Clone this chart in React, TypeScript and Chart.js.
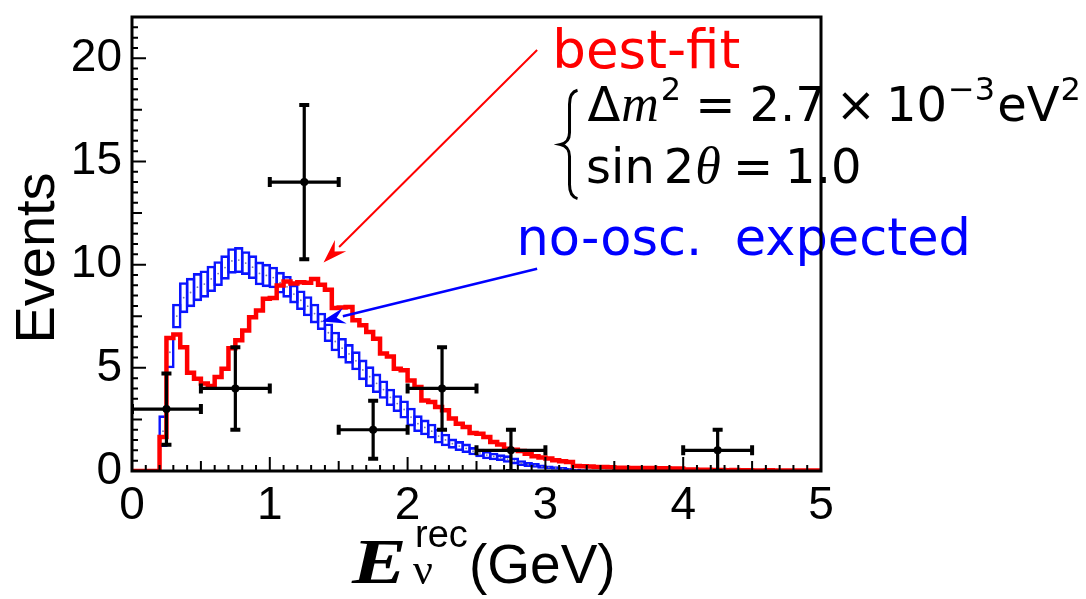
import React, { useEffect, useRef } from 'react';
import { Chart, registerables } from 'chart.js';

Chart.register(...registerables);

// ---------------- data ----------------
const binStart = 0.2;   // GeV, low edge of first histogram bin
const binWidth = 0.05;  // GeV

// best-fit expectation (red histogram), one value per 0.05 GeV bin from 0.20 GeV
const bestFit = [
  1.65, 6.45, 6.62, 6.0, 4.76, 4.47, 4.24, 4.12, 4.55, 4.96,
  5.95, 6.33, 6.81, 7.45, 7.78, 8.35, 8.38, 8.99, 9.18, 9.08,
  9.15, 9.12, 9.3, 9.02, 8.78, 7.9, 7.92, 7.95, 7.3, 7.06,
  6.73, 6.41, 5.69, 5.55, 4.96, 4.88, 4.39, 4.07, 3.42, 3.34,
  3.1, 2.94, 2.54, 2.29, 2.13, 1.84, 1.8, 1.65, 1.4, 1.29,
  1.08, 1.03, 0.97, 0.84, 0.71, 0.65, 0.6, 0.52, 0.47, 0.44,
  0.24, 0.23, 0.22, 0.19, 0.19, 0.18, 0.16, 0.16, 0.15, 0.15,
  0.14, 0.14, 0.13, 0.13, 0.12, 0.12, 0.07, 0.07, 0.06, 0.06,
  0.05, 0.05, 0.04, 0.05, 0.04, 0.04, 0.03, 0.03, 0.04, 0.03,
  0.03, 0.03, 0.02, 0.03, 0.02, 0.02,
];

// no-oscillation expectation with its error band (blue boxes), bins from 0.20 GeV
const noOscLow = [
  1.16, 4.98, 6.9, 7.65, 7.94, 8.23, 8.4, 8.67, 8.96, 9.27,
  9.56, 9.59, 9.5, 9.3, 9.0, 8.91, 8.85, 8.6, 8.4, 8.12,
  7.8, 7.5, 7.15, 6.83, 6.25, 5.8, 5.45, 5.2, 4.88, 4.4,
  4.07, 3.78, 3.5, 3.15, 2.86, 2.54, 2.16, 1.89, 1.73, 1.57,
  1.33, 1.2, 1.08, 0.97, 0.87, 0.76, 0.67, 0.57, 0.52, 0.48,
  0.4, 0.32, 0.24, 0.19, 0.16, 0.11, 0.08, 0.06, 0.03, 0.03,
  0.01, 0.01, 0.0,
];
const noOscHigh = [
  2.7, 6.53, 8.11, 9.15, 9.36, 9.59, 9.72, 9.95, 10.17, 10.45,
  10.8, 10.85, 10.65, 10.45, 10.15, 10.04, 9.9, 9.65, 9.45, 9.03,
  8.75, 8.47, 8.11, 7.67, 7.15, 6.75, 6.45, 6.15, 5.8, 5.4,
  5.07, 4.72, 4.39, 3.99, 3.67, 3.42, 3.07, 2.7, 2.49, 2.29,
  2.05, 1.81, 1.57, 1.45, 1.33, 1.16, 1.08, 0.97, 0.89, 0.81,
  0.76, 0.66, 0.52, 0.44, 0.39, 0.32, 0.27, 0.23, 0.19, 0.15,
  0.1, 0.08, 0.06,
];

// observed events
const dataEnergy = [0.25, 0.75, 1.25, 1.75, 2.25, 2.75, 4.25];
const dataEvents = [3, 4, 14, 2, 4, 1, 1];
const dataErrY = [1.73, 2.0, 3.74, 1.41, 2.0, 1.0, 1.0];
const dataErrX = [0.25, 0.25, 0.25, 0.25, 0.25, 0.25, 0.25];

const xTickValues = [0, 1, 2, 3, 4, 5];
const yTickValues = [0, 5, 10, 15, 20];
const xRange = [0, 5];
const yRange = [0, 22];

// annotation anchors in data coordinates [E, events]
const bestFitLabelAt = [3.05, 19.55];
const bestFitArrow = [[2.94, 20.4], [1.39, 10.1]];
const noOscLabelAt = [2.79, 10.45];
const noOscArrow = [[2.94, 9.8], [1.375, 7.25]];
const formulaAt = [3.305, 16.98];
const formulaLine2At = [3.295, 13.98];
const braceAt = [3.175, 18.45, 13.2];

// ---------------- styling ----------------
const RED = '#ff0000';
const BLUE = '#0a14ff';
const SANS = '"Liberation Sans", Arial, sans-serif';
const DSANS = '"DejaVu Sans", sans-serif';
const SERIF = '"Liberation Serif", "Times New Roman", serif';

type Part = { t: string; font: string; dx?: number; dy?: number };

function drawSeq(ctx: CanvasRenderingContext2D, x: number, y: number, parts: Part[], color: string) {
  ctx.fillStyle = color;
  ctx.textAlign = 'left';
  ctx.textBaseline = 'alphabetic';
  let cx = x;
  for (const p of parts) {
    cx += p.dx || 0;
    ctx.font = p.font;
    ctx.fillText(p.t, cx, y + (p.dy || 0));
    cx += ctx.measureText(p.t).width;
  }
  return cx;
}

function drawArrow(ctx: CanvasRenderingContext2D, x1: number, y1: number, x2: number, y2: number,
  color: string, lw: number, headLen: number, headW: number) {
  const ang = Math.atan2(y2 - y1, x2 - x1);
  const bx = x2 - headLen * Math.cos(ang);
  const by = y2 - headLen * Math.sin(ang);
  ctx.strokeStyle = color;
  ctx.lineWidth = lw;
  ctx.beginPath();
  ctx.moveTo(x1, y1);
  ctx.lineTo(bx + 2 * Math.cos(ang), by + 2 * Math.sin(ang));
  ctx.stroke();
  ctx.fillStyle = color;
  ctx.beginPath();
  ctx.moveTo(x2, y2);
  ctx.lineTo(bx + headW * Math.sin(ang), by - headW * Math.cos(ang));
  ctx.lineTo(bx + 0.35 * headLen * Math.cos(ang), by + 0.35 * headLen * Math.sin(ang));
  ctx.lineTo(bx - headW * Math.sin(ang), by + headW * Math.cos(ang));
  ctx.closePath();
  ctx.fill();
}

const overlayPlugin = {
  id: 'overlay',
  afterDatasetsDraw(chart: any) {
    const { ctx, chartArea: a } = chart;
    const xs = chart.scales.x;
    const ys = chart.scales.y;
    ctx.save();
    ctx.beginPath();
    ctx.rect(a.left, a.top, a.right - a.left, a.bottom - a.top);
    ctx.clip();
    ctx.strokeStyle = '#000';
    dataEnergy.forEach((e, i) => {
      const xc = xs.getPixelForValue(e);
      const yc = ys.getPixelForValue(dataEvents[i]);
      const xl = xs.getPixelForValue(e - dataErrX[i]);
      const xr = xs.getPixelForValue(e + dataErrX[i]);
      const yt = ys.getPixelForValue(dataEvents[i] + dataErrY[i]);
      const yb = ys.getPixelForValue(dataEvents[i] - dataErrY[i]);
      ctx.lineWidth = 3.2;
      ctx.beginPath();
      ctx.moveTo(xl, yc); ctx.lineTo(xr, yc);
      ctx.moveTo(xc, yt); ctx.lineTo(xc, yb);
      ctx.stroke();
      ctx.lineWidth = 4;
      const c = 5;
      ctx.beginPath();
      ctx.moveTo(xl, yc - c); ctx.lineTo(xl, yc + c);
      ctx.moveTo(xr, yc - c); ctx.lineTo(xr, yc + c);
      ctx.moveTo(xc - c, yt); ctx.lineTo(xc + c, yt);
      ctx.moveTo(xc - c, yb); ctx.lineTo(xc + c, yb);
      ctx.stroke();
    });
    ctx.restore();
  },
  afterDraw(chart: any) {
    const { ctx, chartArea: a } = chart;
    const xs = chart.scales.x;
    const ys = chart.scales.y;
    const px = (v: number) => xs.getPixelForValue(v);
    const py = (v: number) => ys.getPixelForValue(v);
    ctx.save();

    // inner tick marks
    ctx.strokeStyle = '#000';
    ctx.lineWidth = 2;
    ctx.beginPath();
    for (let i = 0; i <= 50; i++) {
      const v = xRange[0] + i * 0.1;
      const len = i % 10 === 0 ? 14 : i % 5 === 0 ? 10 : 6;
      const x = px(v);
      ctx.moveTo(x, a.bottom);
      ctx.lineTo(x, a.bottom - len);
    }
    for (let i = 0; i <= 44; i++) {
      const v = yRange[0] + i * 0.5;
      const len = i % 10 === 0 ? 14 : i % 5 === 0 ? 10 : 6;
      const y = py(v);
      ctx.moveTo(a.left, y);
      ctx.lineTo(a.left + len, y);
    }
    ctx.stroke();

    // annotations
    drawSeq(ctx, px(bestFitLabelAt[0]), py(bestFitLabelAt[1]), [{ t: 'best-fit', font: `53px ${DSANS}` }], RED);
    drawArrow(ctx, px(bestFitArrow[0][0]), py(bestFitArrow[0][1]), px(bestFitArrow[1][0]), py(bestFitArrow[1][1]), RED, 2, 24, 8);
    drawSeq(ctx, px(noOscLabelAt[0]), py(noOscLabelAt[1]), [{ t: 'no-osc.  expected', font: `51px ${DSANS}` }], '#0000ff');
    drawArrow(ctx, px(noOscArrow[0][0]), py(noOscArrow[0][1]), px(noOscArrow[1][0]), py(noOscArrow[1][1]), '#0000ff', 2.5, 24, 8);

    const F = `48px ${DSANS}`;
    const FS = `32px ${DSANS}`;
    const FI = `italic 52px ${SERIF}`;
    drawSeq(ctx, px(formulaAt[0]), py(formulaAt[1]), [
      { t: 'Δ', font: F },
      { t: 'm', font: FI, dx: 1 },
      { t: '2', font: FS, dy: -21, dx: 2 },
      { t: '=', font: F, dx: 14 },
      { t: '2.7', font: F, dx: 14 },
      { t: '×', font: F, dx: 10 },
      { t: '10', font: F, dx: 10 },
      { t: '−3', font: FS, dy: -21, dx: 1 },
      { t: 'eV', font: F, dx: 2 },
      { t: '2', font: FS, dy: -21, dx: 1 },
    ], '#000');
    drawSeq(ctx, px(formulaLine2At[0]), py(formulaLine2At[1]), [
      { t: 'sin', font: F },
      { t: '2', font: F, dx: 9 },
      { t: 'θ', font: FI, dx: 1 },
      { t: '=', font: F, dx: 12 },
      { t: '1.0', font: F, dx: 12 },
    ], '#000');
    // curly brace
    {
      const bx = px(braceAt[0]);
      const top = py(braceAt[1]);
      const bot = py(braceAt[2]);
      const mid = (top + bot) / 2;
      ctx.strokeStyle = '#000';
      ctx.lineWidth = 3;
      ctx.beginPath();
      ctx.moveTo(bx + 8, top);
      ctx.quadraticCurveTo(bx, top + 2, bx, top + 14);
      ctx.lineTo(bx, mid - 12);
      ctx.quadraticCurveTo(bx, mid - 2, bx - 9, mid);
      ctx.quadraticCurveTo(bx, mid + 2, bx, mid + 12);
      ctx.lineTo(bx, bot - 14);
      ctx.quadraticCurveTo(bx, bot - 2, bx + 8, bot);
      ctx.stroke();
    }

    // axis titles
    const xb = 583;
    ctx.save();
    ctx.translate(352, xb);
    ctx.scale(1.28, 1);
    drawSeq(ctx, 0, 0, [{ t: 'E', font: `bold italic 64px ${SERIF}` }], '#000');
    ctx.restore();
    drawSeq(ctx, 413, xb + 1, [{ t: 'ν', font: `44px ${SERIF}` }], '#000');
    drawSeq(ctx, 415, xb - 36, [{ t: 'rec', font: `38px ${SANS}` }], '#000');
    drawSeq(ctx, 469, xb, [{ t: '(GeV)', font: `55px ${SANS}` }], '#000');

    ctx.save();
    ctx.translate(54, (a.top + a.bottom) / 2 + 14);
    ctx.rotate(-Math.PI / 2);
    ctx.font = `56px ${SANS}`;
    ctx.fillStyle = '#000';
    ctx.textAlign = 'center';
    ctx.textBaseline = 'alphabetic';
    ctx.fillText('Events', 0, 0);
    ctx.restore();

    // frame
    ctx.strokeStyle = '#000';
    ctx.lineWidth = 3;
    ctx.strokeRect(a.left, a.top, a.right - a.left, a.bottom - a.top);
    ctx.restore();
  },
};

export default function App() {
  const canvasRef = useRef<HTMLCanvasElement | null>(null);

  useEffect(() => {
    document.body.style.margin = '0';
    const canvas = canvasRef.current;
    if (!canvas) return;

    const redPoints = [
      { x: xRange[0], y: 0 },
      ...bestFit.map((v, i) => ({ x: binStart + i * binWidth, y: v })),
      { x: xRange[1], y: bestFit[bestFit.length - 1] },
    ];
    const boxes = noOscLow.map((lo, i) => ({ x: binStart + (i + 0.5) * binWidth, y: [lo, noOscHigh[i]] }));
    const centers = noOscLow.map((lo, i) => ({ x: binStart + (i + 0.5) * binWidth, y: (lo + noOscHigh[i]) / 2 }));
    const points = dataEnergy.map((e, i) => ({ x: e, y: dataEvents[i] }));

    const noPad = (s: any) => { s.paddingTop = 0; s.paddingBottom = 0; s.paddingLeft = 0; s.paddingRight = 0; };

    const chart = new Chart(canvas, {
      type: 'bar',
      data: {
        datasets: [
          {
            type: 'scatter',
            data: points,
            pointRadius: 4,
            pointBackgroundColor: '#000',
            pointBorderColor: '#000',
            pointBorderWidth: 0,
          } as any,
          {
            type: 'line',
            data: redPoints,
            stepped: 'before',
            borderColor: RED,
            borderWidth: 4.5,
            pointRadius: 0,
            fill: false,
            tension: 0,
          } as any,
          {
            type: 'scatter',
            data: centers,
            pointRadius: 0.9,
            pointBackgroundColor: '#7777aa',
            pointBorderWidth: 0,
          } as any,
          {
            type: 'bar',
            data: boxes,
            backgroundColor: 'rgba(0,0,0,0)',
            borderColor: BLUE,
            borderWidth: 2.6,
            borderSkipped: false,
            barPercentage: 1.37,
            categoryPercentage: 1,
            grouped: false,
          } as any,
        ],
      },
      options: {
        animation: false,
        responsive: true,
        maintainAspectRatio: false,
        layout: { padding: { left: 0, top: 17, right: 265, bottom: 0 } },
        plugins: {
          legend: { display: false },
          tooltip: { enabled: false },
          title: { display: false },
        },
        scales: {
          x: {
            type: 'linear',
            min: xRange[0],
            max: xRange[1],
            offset: false,
            grid: { display: false, drawTicks: false },
            border: { display: false },
            afterBuildTicks: (s: any) => { s.ticks = xTickValues.map((v) => ({ value: v })); },
            afterFit: (s: any) => { s.height = 128; noPad(s); },
            ticks: {
              font: { family: SANS, size: 46 },
              color: '#000',
              padding: 8,
              maxRotation: 0,
              autoSkip: false,
            },
          },
          y: {
            type: 'linear',
            min: yRange[0],
            max: yRange[1],
            grid: { display: false, drawTicks: false },
            border: { display: false },
            afterBuildTicks: (s: any) => { s.ticks = yTickValues.map((v) => ({ value: v })); },
            afterFit: (s: any) => { s.width = 132; noPad(s); },
            ticks: {
              font: { family: SANS, size: 46 },
              color: '#000',
              padding: 10,
              autoSkip: false,
            },
          },
        },
      } as any,
      plugins: [overlayPlugin],
    });

    return () => chart.destroy();
  }, []);

  return (
    <div style={{ position: 'fixed', left: 0, top: 0, width: 1086, height: 599, background: '#fff' }}>
      <canvas ref={canvasRef} />
    </div>
  );
}
